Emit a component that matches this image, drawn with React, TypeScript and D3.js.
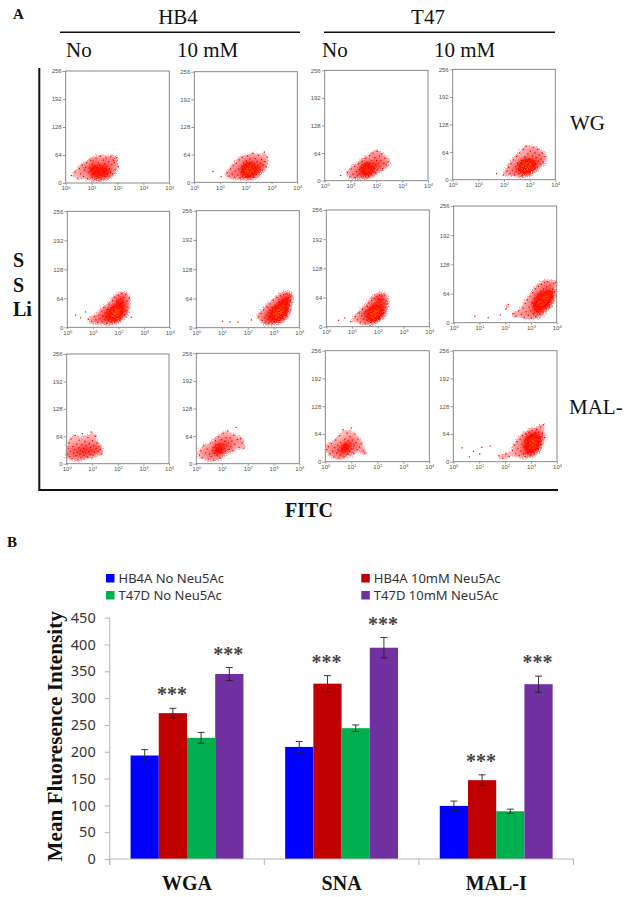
import React, { useEffect, useRef } from 'react';
import * as d3 from 'd3';

type Pt = [number, number];

// panel A: each point is [log10 FITC, side scatter]
const wgHb4No: Pt[] = [[0.22,17],[0.36,25],[0.47,11],[0.53,33],[0.58,21],[0.64,41],[0.69,15],[0.73,29],[0.81,46],[0.84,10],[0.88,24],[0.93,36],[0.96,52],[1.02,13],[1.04,19],[1.01,28],[1.07,33],[1.03,43],[1.12,8],[1.09,22],[1.14,26],[1.11,38],[1.17,57],[1.21,16],[1.18,24],[1.24,31],[1.19,35],[1.26,47],[1.28,12],[1.33,20],[1.29,27],[1.36,33],[1.31,41],[1.34,61],[1.39,18],[1.42,25],[1.44,30],[1.41,37],[1.46,52],[1.52,15],[1.49,23],[1.54,34],[1.51,44],[1.56,57],[1.61,20],[1.63,28],[1.59,39],[1.66,49],[1.72,25],[1.69,33],[1.74,60],[1.81,21],[1.78,42],[1.84,52],[1.91,30],[1.88,47],[2.03,37],[1.97,58],[0.76,35],[1.06,50],[1.37,8],[1.67,15],[1.16,29],[1.27,23],[0.98,31],[1.48,27]];
const wgHb4Ten: Pt[] = [[0.72,25],[1.04,13],[1.28,22],[1.35,14],[1.41,31],[1.47,19],[1.52,38],[1.56,12],[1.59,26],[1.63,44],[1.68,17],[1.71,31],[1.74,52],[1.78,10],[1.81,23],[1.84,37],[1.86,58],[1.89,15],[1.92,28],[1.91,44],[1.96,20],[1.98,33],[2.01,13],[2.03,25],[2.02,49],[2.05,38],[2.07,61],[2.08,18],[2.11,30],[2.12,22],[2.14,42],[2.16,54],[2.18,15],[2.17,34],[2.21,26],[2.22,47],[2.24,20],[2.26,37],[2.27,67],[2.29,30],[2.31,13],[2.33,43],[2.34,24],[2.36,55],[2.38,34],[2.41,18],[2.42,28],[2.44,48],[2.47,38],[2.49,62],[2.51,24],[2.54,33],[2.57,44],[2.61,53],[2.63,28],[2.67,40],[2.72,70],[2.74,48],[2.78,36],[2.83,58],[2.04,30],[2.1,35],[2.19,29],[1.94,24],[2.25,23],[2.13,27],[1.87,31],[2.06,19],[2.23,32],[2.0,41],[2.15,25],[2.09,14]];
const wgT47No: Pt[] = [[0.62,12],[0.88,19],[0.98,9],[1.03,27],[1.09,15],[1.16,33],[1.18,7],[1.23,21],[1.27,11],[1.31,39],[1.34,26],[1.36,16],[1.41,31],[1.43,9],[1.46,45],[1.48,21],[1.52,36],[1.54,14],[1.56,27],[1.58,52],[1.61,18],[1.63,32],[1.65,42],[1.67,23],[1.69,11],[1.72,37],[1.74,58],[1.76,28],[1.78,16],[1.81,46],[1.83,33],[1.85,22],[1.87,64],[1.89,40],[1.92,29],[1.94,53],[1.96,18],[1.98,36],[2.01,47],[2.03,68],[2.06,26],[2.09,40],[2.12,57],[2.14,33],[2.18,46],[2.21,62],[2.24,28],[2.29,40],[2.33,52],[2.38,36],[2.46,44],[1.49,30],[1.57,24],[1.68,28],[1.73,19],[1.64,15],[1.59,38],[1.79,25],[1.71,31],[1.53,20]];
const wgT47Ten: Pt[] = [[1.71,14],[1.98,11],[2.11,20],[2.18,29],[2.24,14],[2.28,37],[2.33,22],[2.37,46],[2.41,11],[2.44,30],[2.47,19],[2.49,54],[2.53,38],[2.56,25],[2.58,14],[2.61,62],[2.63,33],[2.66,21],[2.68,45],[2.71,9],[2.73,28],[2.75,70],[2.77,37],[2.79,16],[2.81,52],[2.83,24],[2.85,31],[2.87,78],[2.88,42],[2.91,19],[2.93,60],[2.94,35],[2.96,27],[2.98,48],[3.01,13],[3.03,66],[3.04,31],[3.06,39],[3.08,22],[3.11,55],[3.13,75],[3.14,34],[3.17,44],[3.19,25],[3.21,62],[3.23,37],[3.26,51],[3.29,30],[3.31,70],[3.34,43],[3.37,57],[3.41,36],[3.44,48],[3.49,62],[3.53,41],[3.6,54],[2.72,34],[2.78,30],[2.82,38],[2.86,26],[2.9,33],[2.84,42],[2.76,25],[2.92,29],[2.95,38],[2.89,36],[2.8,32],[2.7,38],[2.99,33],[2.97,23],[2.74,22],[3.02,40],[2.87,22],[2.67,29],[3.05,28],[3.1,35],[2.81,27],[2.93,43]];
const snaHb4No: Pt[] = [[0.32,27],[0.52,21],[0.71,34],[0.83,18],[0.95,13],[1.06,24],[1.12,16],[1.19,11],[1.24,27],[1.28,19],[1.33,36],[1.36,12],[1.39,25],[1.43,44],[1.45,17],[1.48,32],[1.51,22],[1.54,9],[1.56,39],[1.58,28],[1.61,16],[1.63,51],[1.66,35],[1.68,23],[1.71,12],[1.73,44],[1.75,30],[1.77,59],[1.79,19],[1.81,37],[1.83,25],[1.85,66],[1.87,48],[1.89,14],[1.91,33],[1.93,56],[1.95,22],[1.97,41],[1.99,71],[2.01,29],[2.03,51],[2.05,36],[2.07,63],[2.09,19],[2.11,44],[2.13,74],[2.15,32],[2.17,55],[2.19,40],[2.21,66],[2.23,27],[2.26,48],[2.28,72],[2.31,37],[2.34,58],[2.37,45],[2.42,64],[2.5,22],[1.72,32],[1.78,28],[1.84,36],[1.88,27],[1.92,38],[1.82,42],[1.76,21],[1.94,45],[1.98,34],[2.02,42],[2.06,46],[2.1,52],[1.86,19],[1.9,22],[1.74,37],[1.96,29],[2.0,58],[2.04,24],[2.12,36],[2.14,60],[2.08,31],[1.69,29],[1.64,25],[1.8,33]];
const snaHb4Ten: Pt[] = [[1.02,14],[1.31,13],[1.62,12],[2.14,17],[2.42,24],[2.51,31],[2.56,16],[2.61,39],[2.64,22],[2.68,12],[2.71,28],[2.74,46],[2.77,18],[2.79,34],[2.81,10],[2.84,24],[2.86,52],[2.88,38],[2.91,15],[2.93,29],[2.95,44],[2.97,20],[2.99,60],[3.01,34],[3.03,13],[3.05,25],[3.07,50],[3.09,40],[3.11,18],[3.13,66],[3.15,30],[3.17,45],[3.19,23],[3.21,56],[3.23,36],[3.25,15],[3.27,70],[3.29,48],[3.31,28],[3.33,60],[3.35,40],[3.37,20],[3.39,72],[3.41,52],[3.43,34],[3.45,64],[3.47,44],[3.49,26],[3.51,74],[3.53,56],[3.55,38],[3.57,66],[3.6,48],[3.62,72],[3.65,58],[3.68,68],[3.0,26],[3.04,31],[3.08,37],[3.12,34],[3.16,24],[3.2,42],[3.24,29],[3.28,38],[3.32,46],[3.36,33],[3.4,44],[3.44,50],[3.48,40],[3.52,62],[3.18,36],[3.22,30],[3.26,51],[3.1,27],[3.14,43],[2.96,36],[2.92,24],[3.06,18],[3.3,22],[3.34,52],[3.38,58],[3.46,36],[3.5,54],[3.42,28]];
const snaT47No: Pt[] = [[0.48,14],[0.72,19],[0.95,11],[1.12,22],[1.21,15],[1.28,30],[1.33,10],[1.37,24],[1.41,38],[1.44,17],[1.47,29],[1.51,8],[1.53,34],[1.56,21],[1.59,45],[1.61,13],[1.63,27],[1.65,52],[1.68,36],[1.7,19],[1.72,10],[1.74,31],[1.76,58],[1.78,42],[1.8,24],[1.82,15],[1.84,36],[1.86,62],[1.88,28],[1.9,50],[1.92,19],[1.94,39],[1.96,66],[1.98,31],[2.0,54],[2.02,23],[2.04,44],[2.06,69],[2.08,34],[2.1,58],[2.12,27],[2.14,48],[2.16,67],[2.18,38],[2.2,60],[2.22,30],[2.24,52],[2.26,70],[2.29,42],[2.32,58],[2.36,50],[1.67,28],[1.73,38],[1.77,22],[1.81,33],[1.85,26],[1.89,40],[1.93,32],[1.97,23],[2.01,36],[2.05,30],[2.09,42],[2.13,36],[1.83,46],[1.75,17],[1.91,14],[1.99,46],[2.07,20],[2.15,29],[2.03,61],[1.87,21],[1.95,28],[1.79,30],[1.71,25]];
const snaT47Ten: Pt[] = [[0.82,14],[1.34,11],[1.81,17],[2.03,30],[2.12,40],[2.3,20],[2.41,14],[2.52,26],[2.63,18],[2.7,32],[2.74,12],[2.78,42],[2.82,24],[2.86,50],[2.9,16],[2.93,34],[2.96,58],[2.99,26],[3.02,10],[3.04,44],[3.07,66],[3.09,20],[3.11,36],[3.13,54],[3.15,28],[3.17,74],[3.19,14],[3.21,46],[3.23,33],[3.25,62],[3.27,24],[3.29,80],[3.31,40],[3.33,52],[3.35,18],[3.37,68],[3.39,30],[3.41,84],[3.43,44],[3.45,58],[3.47,24],[3.49,74],[3.51,36],[3.53,88],[3.55,50],[3.57,64],[3.59,30],[3.61,78],[3.63,42],[3.65,90],[3.67,56],[3.69,70],[3.71,36],[3.74,82],[3.77,48],[3.8,62],[3.84,74],[3.88,86],[3.92,68],[3.96,88],[3.24,44],[3.28,50],[3.32,30],[3.36,42],[3.4,54],[3.44,36],[3.48,48],[3.52,44],[3.56,38],[3.6,55],[3.64,48],[3.68,44],[3.42,62],[3.46,50],[3.5,60],[3.54,66],[3.58,56],[3.62,60],[3.26,36],[3.34,36],[3.38,50],[3.3,60],[3.22,26],[3.18,40],[3.14,44],[3.66,64],[3.7,52],[3.72,60],[3.76,68],[3.78,56],[3.82,54]];
const malHb4No: Pt[] = [[0.04,22],[0.06,36],[0.09,48],[0.12,17],[0.14,29],[0.17,58],[0.21,12],[0.24,40],[0.27,25],[0.31,33],[0.33,66],[0.36,19],[0.39,46],[0.42,27],[0.44,9],[0.47,37],[0.49,55],[0.52,23],[0.54,31],[0.56,14],[0.59,44],[0.61,70],[0.63,28],[0.66,36],[0.68,19],[0.71,52],[0.73,25],[0.76,42],[0.78,33],[0.81,16],[0.83,61],[0.86,29],[0.88,47],[0.91,22],[0.93,38],[0.96,74],[0.98,31],[1.01,54],[1.03,20],[1.06,42],[1.09,27],[1.12,64],[1.15,36],[1.18,48],[1.22,28],[1.26,40],[1.31,33],[1.36,22]];
const malHb4Ten: Pt[] = [[0.12,20],[0.18,30],[0.24,14],[0.29,42],[0.36,25],[0.42,34],[0.46,11],[0.51,22],[0.55,48],[0.58,17],[0.62,30],[0.65,38],[0.68,8],[0.71,24],[0.74,54],[0.76,43],[0.78,31],[0.81,19],[0.84,36],[0.86,62],[0.88,27],[0.9,47],[0.92,13],[0.95,40],[0.97,33],[0.99,56],[1.02,24],[1.04,70],[1.06,45],[1.08,36],[1.11,52],[1.13,29],[1.16,60],[1.19,42],[1.22,76],[1.25,48],[1.28,33],[1.31,60],[1.34,40],[1.38,52],[1.42,30],[1.46,66],[1.5,45],[1.55,84],[1.6,56],[1.66,38],[1.72,58],[1.79,48],[1.85,36],[0.89,32],[0.93,28],[0.85,44],[0.8,30]];
const malT47No: Pt[] = [[0.06,28],[0.12,35],[0.18,18],[0.23,42],[0.28,24],[0.33,11],[0.36,32],[0.4,50],[0.44,20],[0.47,38],[0.5,27],[0.52,9],[0.55,60],[0.58,16],[0.6,44],[0.63,30],[0.65,22],[0.68,74],[0.7,36],[0.72,12],[0.75,52],[0.77,25],[0.79,41],[0.82,30],[0.84,66],[0.86,18],[0.88,48],[0.9,36],[0.93,24],[0.95,58],[0.97,42],[1.0,78],[1.02,30],[1.05,50],[1.08,20],[1.11,38],[1.14,64],[1.18,44],[1.22,28],[1.26,52],[1.31,34],[1.38,42],[1.46,25],[1.52,20],[0.74,33],[0.81,38],[0.66,28],[0.87,30]];
const malT47Ten: Pt[] = [[0.34,32],[0.62,11],[0.78,24],[1.02,18],[1.1,33],[1.42,36],[1.76,14],[1.9,8],[2.02,18],[2.16,12],[2.28,26],[2.36,38],[2.41,18],[2.46,46],[2.5,30],[2.54,14],[2.58,52],[2.61,24],[2.64,40],[2.67,60],[2.7,18],[2.73,34],[2.76,48],[2.78,12],[2.8,64],[2.83,28],[2.85,42],[2.87,20],[2.89,56],[2.91,36],[2.93,68],[2.95,24],[2.97,48],[2.99,15],[3.01,60],[3.03,32],[3.05,72],[3.07,42],[3.09,22],[3.11,54],[3.13,36],[3.15,66],[3.17,28],[3.19,48],[3.21,74],[3.23,38],[3.25,58],[3.27,30],[3.29,68],[3.31,46],[3.34,56],[3.37,80],[3.4,40],[3.44,66],[3.48,85],[3.52,56],[2.82,36],[2.86,32],[2.9,44],[2.94,30],[2.98,38],[3.02,44],[3.06,26],[3.1,34],[3.14,48],[3.18,40],[3.22,56],[3.26,46],[2.92,52],[2.96,58],[3.0,28],[3.04,52],[3.08,60],[3.12,42],[3.16,56],[3.2,32],[2.84,50],[2.88,26],[3.24,48],[3.28,54]];

const decadeTicks = [0, 1, 2, 3, 4];
const sscTicks = [0, 64, 128, 192, 256];

// panel B
const categories = ['WGA', 'SNA', 'MAL-I'];
const seriesNames = ['HB4A No Neu5Ac', 'HB4A 10mM Neu5Ac', 'T47D No Neu5Ac', 'T47D 10mM Neu5Ac'];
const seriesColours = ['#0000ff', '#c00000', '#00b050', '#7030a0'];
const hb4aNoMeans = [193, 209, 99];
const hb4aTenMeans = [272, 327, 147];
const t47dNoMeans = [226, 244, 89];
const t47dTenMeans = [345, 394, 326];
const hb4aNoErrors = [11, 10, 9];
const hb4aTenErrors = [9, 15, 10];
const t47dNoErrors = [10, 6, 4];
const t47dTenErrors = [12, 19, 15];
const meanValues = [hb4aNoMeans, hb4aTenMeans, t47dNoMeans, t47dTenMeans];
const errorValues = [hb4aNoErrors, hb4aTenErrors, t47dNoErrors, t47dTenErrors];
const fluorescenceTicks = [0, 50, 100, 150, 200, 250, 300, 350, 400, 450];

const panels = [
    { points: wgHb4No, left: 65.7, right: 169.3, top: 71, bottom: 183 },
    { points: wgHb4Ten, left: 194.3, right: 297.3, top: 71.7, bottom: 182.3 },
    { points: wgT47No, left: 324.7, right: 428, top: 70.3, bottom: 180.7 },
    { points: wgT47Ten, left: 452.7, right: 555.3, top: 69.3, bottom: 179.7 },
    { points: snaHb4No, left: 67.3, right: 169.7, top: 211.3, bottom: 327.3 },
    { points: snaHb4Ten, left: 196.3, right: 299.3, top: 210.7, bottom: 327.7 },
    { points: snaT47No, left: 326.3, right: 429.3, top: 210, bottom: 326.7 },
    { points: snaT47Ten, left: 453.7, right: 556.7, top: 206, bottom: 322.7 },
    { points: malHb4No, left: 66.7, right: 169, top: 354, bottom: 463.7 },
    { points: malHb4Ten, left: 196.3, right: 299.3, top: 353.3, bottom: 463.7 },
    { points: malT47No, left: 325.3, right: 429.3, top: 350.7, bottom: 461.7 },
    { points: malT47Ten, left: 453.3, right: 557, top: 350.7, bottom: 461.7 },
];

const legendItems = [
    { series: 0, x: 106, y: 578 },
    { series: 2, x: 106, y: 595 },
    { series: 1, x: 361.3, y: 578 },
    { series: 3, x: 361.3, y: 595 },
];

const SERIF = '"Liberation Serif", serif';
const SANS = '"Liberation Sans", sans-serif';
const CHART_SANS = '"Noto Sans", sans-serif';

const drawDotPlots = (root: d3.Selection<SVGGElement, unknown, null, undefined>) => {
    const densityColour = d3.scaleLinear<string>()
        .domain([0.024, 0.05, 0.085, 0.12, 0.21])
        .range(['#ffb4b4', '#ff7878', '#ff3020', '#ff0c00', '#ff6a00'])
        .clamp(true);

    panels.forEach(panel => {
        const w = panel.right - panel.left;
        const h = panel.bottom - panel.top;
        const x = d3.scaleLinear().domain([0, 4]).range([0, w]);
        const y = d3.scaleLinear().domain([0, 256]).range([h, 0]);
        const g = root.append('g').attr('transform', `translate(${panel.left},${panel.top})`);

        const density = d3.contourDensity<Pt>()
            .x(d => x(d[0]))
            .y(d => y(d[1]))
            .size([w, h])
            .cellSize(1)
            .bandwidth(2.7)
            .thresholds([0.024, 0.032, 0.04, 0.05, 0.062, 0.075, 0.09, 0.11, 0.135, 0.16, 0.19])(panel.points);

        // the filter only roughens the contour edges so they read as grain
        g.append('g')
            .attr('filter', 'url(#speckle)')
            .selectAll('path.density')
            .data(density)
            .enter().append('path')
            .attr('class', 'density')
            .attr('d', d3.geoPath())
            .attr('fill', d => densityColour(d.value));

        g.selectAll('rect.dot')
            .data(panel.points)
            .enter().append('rect')
            .attr('class', 'dot')
            .attr('x', d => x(d[0]) - 0.6)
            .attr('y', d => y(d[1]) - 0.6)
            .attr('width', 1.2)
            .attr('height', 1.2)
            .attr('fill', '#f00000');

        g.append('rect')
            .attr('width', w)
            .attr('height', h)
            .attr('fill', 'none')
            .attr('stroke', '#7c7c7c')
            .attr('stroke-width', 0.9);

        const yAxis = g.append('g')
            .call(d3.axisLeft(y).tickValues(sscTicks).tickSize(3).tickPadding(1));
        const xAxis = g.append('g')
            .attr('transform', `translate(0,${h})`)
            .call(d3.axisBottom(x).tickValues(decadeTicks).tickSize(2).tickPadding(1).tickFormat(() => ''));

        xAxis.selectAll<SVGTextElement, number>('text').each(function (d) {
            const text = d3.select(this);
            text.append('tspan').text('10');
            text.append('tspan').attr('dy', -1.5).attr('font-size', 4).text(d);
        });

        [yAxis, xAxis].forEach(axis => {
            axis.select('.domain').remove();
            axis.selectAll('line').attr('stroke', '#777').attr('stroke-width', 0.7);
            axis.selectAll('text').attr('fill', '#555').attr('font-size', 6).attr('font-family', SANS);
        });
    });
};

const drawBars = (root: d3.Selection<SVGGElement, unknown, null, undefined>) => {
    const axisLeft = 109.7;
    const axisRight = 573.5;
    const baseline = 859;
    const plotTop = 617.7;

    const x0 = d3.scaleBand().domain(categories).range([axisLeft, axisRight]).paddingInner(0.27).paddingOuter(0.135);
    const x1 = d3.scaleBand().domain(seriesNames).range([0, x0.bandwidth()]);
    const y = d3.scaleLinear().domain([0, 450]).range([baseline, plotTop]);

    const yAxis = root.append('g')
        .attr('transform', `translate(${axisLeft},0)`)
        .call(d3.axisLeft(y).tickValues(fluorescenceTicks).tickSize(5).tickPadding(9));
    yAxis.selectAll('text')
        .attr('font-size', 14.5)
        .attr('font-family', CHART_SANS)
        .attr('fill', '#333');
    yAxis.selectAll('line').attr('stroke', '#b5b5b5');
    yAxis.select('.domain').attr('stroke', '#b5b5b5').attr('d', `M0,${plotTop}V${baseline + 6}`);

    seriesNames.forEach((name, s) => {
        categories.forEach((category, c) => {
            const left = x0(category)! + x1(name)!;
            const mean = meanValues[s][c];
            const error = errorValues[s][c];
            const centre = left + x1.bandwidth() / 2;

            root.append('rect')
                .attr('x', left)
                .attr('y', y(mean))
                .attr('width', x1.bandwidth())
                .attr('height', baseline - y(mean))
                .attr('fill', seriesColours[s]);

            const bar = d3.path();
            bar.moveTo(centre, y(mean + error));
            bar.lineTo(centre, y(mean - error));
            bar.moveTo(centre - 3.5, y(mean + error));
            bar.lineTo(centre + 3.5, y(mean + error));
            bar.moveTo(centre - 3.5, y(mean - error));
            bar.lineTo(centre + 3.5, y(mean - error));
            root.append('path')
                .attr('d', bar.toString())
                .attr('fill', 'none')
                .attr('stroke', '#222')
                .attr('stroke-width', 0.9);

            // the significance marks sit over the 10 mM bars only
            if (s % 2 === 1) {
                root.append('text')
                    .attr('x', centre - 1)
                    .attr('y', y(mean + error) - 7)
                    .attr('text-anchor', 'middle')
                    .attr('font-family', SERIF)
                    .attr('font-weight', 'bold')
                    .attr('font-size', 20)
                    .attr('fill', '#444')
                    .text('***');
            }
        });
    });

    // category baseline and separators
    const axisLine = d3.path();
    axisLine.moveTo(axisLeft, baseline);
    axisLine.lineTo(axisRight, baseline);
    d3.range(categories.length + 1).forEach(i => {
        const tickX = axisLeft + i * x0.step();
        axisLine.moveTo(tickX, baseline);
        axisLine.lineTo(tickX, baseline + 6);
    });
    root.append('path').attr('d', axisLine.toString()).attr('stroke', '#b5b5b5').attr('fill', 'none');

    root.selectAll('text.category')
        .data(categories)
        .enter().append('text')
        .attr('class', 'category')
        .attr('x', d => x0(d)! + x0.bandwidth() / 2)
        .attr('y', 890)
        .attr('text-anchor', 'middle')
        .attr('font-family', SERIF)
        .attr('font-weight', 'bold')
        .attr('font-size', 20)
        .attr('fill', '#111')
        .text(d => d);

    legendItems.forEach(item => {
        root.append('rect')
            .attr('x', item.x)
            .attr('y', item.y - 4)
            .attr('width', 8.5)
            .attr('height', 8.5)
            .attr('fill', seriesColours[item.series]);
        root.append('text')
            .attr('x', item.x + 12.5)
            .attr('y', item.y + 5)
            .attr('font-family', CHART_SANS)
            .attr('font-size', 13)
            .attr('fill', '#333')
            .text(seriesNames[item.series]);
    });
};

const App = () => {
    const chartRef = useRef<SVGGElement>(null);

    useEffect(() => {
        if (!chartRef.current) return;
        const root = d3.select(chartRef.current);
        root.selectAll('*').remove();
        drawDotPlots(root);
        drawBars(root);
    }, []);

    const serifText = { fontFamily: SERIF, fill: '#111' };
    const boldText = { fontFamily: SERIF, fontWeight: 'bold', fill: '#111' };

    return (
        <svg width={629} height={897} style={{ position: 'absolute', left: 0, top: 0, background: '#fff' }}>
            <defs>
                <filter id="speckle" x="-20%" y="-20%" width="140%" height="140%">
                    <feTurbulence type="fractalNoise" baseFrequency={0.85} numOctaves={1} seed={4} result="grain" />
                    <feDisplacementMap in="SourceGraphic" in2="grain" scale={7} xChannelSelector="R" yChannelSelector="G" />
                </filter>
            </defs>
            <text x={13} y={19} fontSize={15} style={boldText}>A</text>
            <text x={178} y={24} fontSize={21} textAnchor="middle" style={serifText}>HB4</text>
            <text x={428} y={24} fontSize={21} textAnchor="middle" style={serifText}>T47</text>
            <line x1={60} x2={300} y1={32.3} y2={32.3} stroke="#111" strokeWidth={1.5} />
            <line x1={324} x2={555} y1={32.3} y2={32.3} stroke="#111" strokeWidth={1.5} />
            <text x={66} y={57} fontSize={21} style={serifText}>No</text>
            <text x={177} y={57} fontSize={21} style={serifText}>10 mM</text>
            <text x={322} y={57} fontSize={21} style={serifText}>No</text>
            <text x={434} y={57} fontSize={21} style={serifText}>10 mM</text>
            <text x={570} y={130} fontSize={21} style={serifText}>WG</text>
            <text x={569} y={414} fontSize={21} style={serifText}>MAL-</text>

            <path d="M39.3,68V490H558" fill="none" stroke="#111" strokeWidth={2} />
            <text x={13} y={266.7} fontSize={20} style={boldText}>S</text>
            <text x={13} y={291.7} fontSize={20} style={boldText}>S</text>
            <text x={13} y={316} fontSize={20} style={boldText}>Li</text>
            <text x={309} y={516.7} fontSize={20} textAnchor="middle" style={boldText}>FITC</text>

            <text x={7} y={546.7} fontSize={15} style={boldText}>B</text>
            <text
                transform="translate(62,861.5) rotate(-90)"
                fontSize={21.2}
                style={boldText}
            >
                Mean Fluoresence Intensity
            </text>

            <g ref={chartRef} />
        </svg>
    );
};

export default App;
